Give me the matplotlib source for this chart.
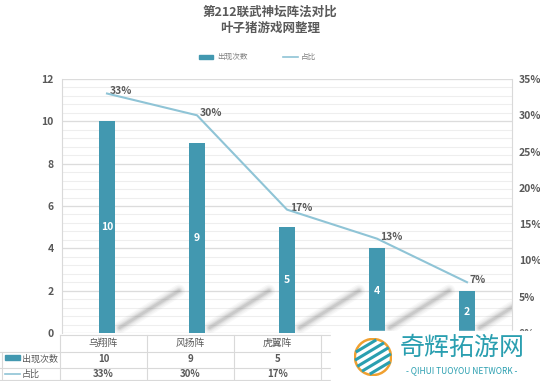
import matplotlib.pyplot as plt
import numpy as np
from matplotlib.patches import Rectangle, Circle

plt.rcParams['font.family'] = ['Noto Sans CJK SC', 'DejaVu Sans']

# 数据
categories = ['乌翔阵', '风扬阵', '虎翼阵', '雁行阵', '鱼丽阵']
counts = [10, 9, 5, 4, 2]
shares = [33, 30, 17, 13, 7]
left_ticks = [0, 2, 4, 6, 8, 10, 12]
right_ticks = [0, 5, 10, 15, 20, 25, 30, 35]
visible_cols = 3  # las dos últimas columnas quedan bajo la marca de agua

bar_color = '#4298b0'
line_color = '#8fc4d6'
text_color = '#595959'
W, H = 540, 381

fig = plt.figure(figsize=(W / 100, H / 100), dpi=100)

def fx(px):
    return px / W

def fy(py):
    return 1 - py / H

# ejes principales
ax = fig.add_axes([fx(62), fy(333), fx(512) - fx(62), fy(79) - fy(333)])
x = np.arange(len(categories))
ax.set_xlim(-0.5, len(categories) - 0.5)
ax.set_ylim(0, 12)

# cuadrícula
for v in np.arange(0, 12.01, 0.4):
    ax.axhline(v, color='#eeeeee', lw=0.8, zorder=0)
for v in left_ticks:
    ax.axhline(v, color='#dcdcdc', lw=0.9, zorder=0)

# sombras diagonales (difuminadas)
for xi in x:
    for lw, a in [(9, 0.04), (7, 0.05), (5, 0.07), (3.5, 0.09), (2, 0.12)]:
        ax.plot([xi + 0.14, xi + 0.8], [0.25, 2.0], color='#606060',
                lw=lw, alpha=a, solid_capstyle='round', zorder=1)

ax.bar(x, counts, width=0.18, color=bar_color, zorder=2)
for xi, c in zip(x, counts):
    ax.text(xi, c / 2, str(c), color='white', ha='center', va='center',
            fontsize=7.5, fontweight='bold', zorder=3)

ax.set_yticks(left_ticks)
ax.set_xticks([])
ax.tick_params(axis='y', length=0, labelsize=7.5, labelcolor=text_color, pad=6)
for lab in ax.get_yticklabels():
    lab.set_fontweight('bold')
for s in ['top', 'bottom']:
    ax.spines[s].set_visible(False)
ax.spines['left'].set_color('#d9d9d9')
ax.spines['right'].set_color('#d9d9d9')

ax2 = ax.twinx()
ax2.set_ylim(0, 35)
ax2.plot(x, shares, color=line_color, lw=1.5, zorder=4)
for xi, s in zip(x, shares):
    ax2.annotate(f'{s}%', (xi, s), xytext=(2, 1.5), textcoords='offset points',
                 ha='left', va='center', fontsize=7.5, fontweight='bold',
                 color=text_color)
ax2.set_yticks(right_ticks)
ax2.set_yticklabels([f'{t}%' for t in right_ticks])
ax2.tick_params(axis='y', length=0, labelsize=7.5, labelcolor=text_color, pad=5)
for lab in ax2.get_yticklabels():
    lab.set_fontweight('bold')
for s in ['top', 'bottom', 'left', 'right']:
    ax2.spines[s].set_visible(False)

# título
fig.text(0.5, fy(12), '第212联武神坛阵法对比', ha='center', va='center',
         fontsize=9, fontweight='bold', color=text_color)
fig.text(0.5, fy(28), '叶子猪游戏网整理', ha='center', va='center',
         fontsize=9, fontweight='bold', color=text_color)

# leyenda
fig.patches.append(Rectangle((fx(199), fy(59)), fx(14), fy(55) - fy(59),
                             transform=fig.transFigure, color=bar_color))
fig.text(fx(217), fy(57), '出现次数', ha='left', va='center', fontsize=5.5, color='#808080')
fig.lines.append(plt.Line2D([fx(283), fx(298)], [fy(57), fy(57)],
                            transform=fig.transFigure, color=line_color, lw=1.2))
fig.text(fx(301), fy(57), '占比', ha='left', va='center', fontsize=5.5, color='#808080')

# tabla de datos
col0, colw = 60, 87
grid_c = '#d9d9d9'
for py, x0 in [(335, col0), (352, 0), (368, 0), (380, 0)]:
    fig.lines.append(plt.Line2D([fx(x0), 1], [fy(py), fy(py)],
                                transform=fig.transFigure, color=grid_c, lw=0.8))
fig.lines.append(plt.Line2D([fx(2), fx(2)], [fy(352), fy(380)],
                            transform=fig.transFigure, color=grid_c, lw=0.8))
for i in range(len(categories) + 1):
    px = col0 + colw * i
    fig.lines.append(plt.Line2D([fx(px), fx(px)], [fy(335), fy(380)],
                                transform=fig.transFigure, color=grid_c, lw=0.8))
for i, (cat, c, s) in enumerate(zip(categories[:visible_cols], counts, shares)):
    cx = fx(col0 + colw * (i + 0.5))
    fig.text(cx, fy(343), cat, ha='center', va='center', fontsize=7, color=text_color)
    fig.text(cx, fy(359), str(c), ha='center', va='center', fontsize=7,
             fontweight='bold', color=text_color)
    fig.text(cx, fy(374), f'{s}%', ha='center', va='center', fontsize=7,
             fontweight='bold', color=text_color)
fig.patches.append(Rectangle((fx(5), fy(360)), fx(15), fy(355) - fy(360),
                             transform=fig.transFigure, color=bar_color))
fig.text(fx(22), fy(359), '出现次数', ha='left', va='center', fontsize=6.5, color=text_color)
fig.lines.append(plt.Line2D([fx(5), fx(20)], [fy(374), fy(374)],
                            transform=fig.transFigure, color=line_color, lw=1.2))
fig.text(fx(22), fy(374), '占比', ha='left', va='center', fontsize=6.5, color=text_color)

# marca de agua
fig.patches.append(Rectangle((fx(331), 0), 1 - fx(331), fy(331),
                             transform=fig.transFigure, color='white', zorder=10))
logo = fig.add_axes([fx(354), fy(376), fx(392) - fx(354), fy(338) - fy(376)], zorder=11)
logo.set_xlim(-1, 1)
logo.set_ylim(-1, 1)
logo.set_aspect('equal')
logo.axis('off')
logo.add_patch(Circle((0, 0), 0.95, fc='white', ec='#f0a030', lw=1.8))
for k in np.linspace(-1.2, 1.2, 7):
    t = np.linspace(-1, 1, 50)
    xs, ys = t, 0.6 * t + k
    m = xs ** 2 + ys ** 2 < 0.8
    logo.plot(xs[m], ys[m], color='#2a9fb0', lw=2.2)
fig.text(fx(462), fy(348), '奇辉拓游网', ha='center', va='center', fontsize=18,
         color='#2a9fb0', zorder=12)
fig.text(fx(462), fy(371), '- QIHUI TUOYOU NETWORK -', ha='center', va='center',
         fontsize=6, color='#2a9fb0', zorder=12)

fig.savefig('out.png', dpi=100)
